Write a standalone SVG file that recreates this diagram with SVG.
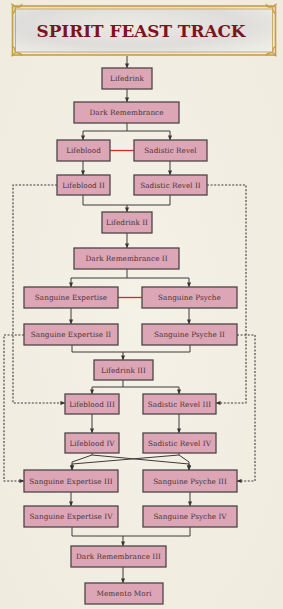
<svg xmlns="http://www.w3.org/2000/svg" width="283" height="609" viewBox="0 0 283 609">
<style>
.n rect{fill:#dca6b6;stroke:#4d4547;stroke-width:1.3}
.n text{font-family:"DejaVu Serif","Liberation Serif",serif;font-size:7.3px;fill:#4a3336;text-anchor:middle;dominant-baseline:central}
.c path{fill:none;stroke:#3f3a3a;stroke-width:1}
.c .d{stroke-dasharray:2 1.6;stroke-width:1.1}
.c .r{stroke:#d42a2a;stroke-width:1.3}
.title{font-family:"DejaVu Serif","Liberation Serif",serif;font-weight:bold;font-size:17px;fill:#7a1520;text-anchor:middle}
.gold{fill:none;stroke:#c89e45}
</style>
<defs>
<marker id="a" viewBox="0 0 6 6" refX="5.5" refY="3" markerWidth="5" markerHeight="5" orient="auto" markerUnits="userSpaceOnUse">
<path d="M0,0.5 L6,3 L0,5.5 Z" fill="#3a3535"/>
</marker>
<radialGradient id="cloud" cx="0.45" cy="0.4" r="0.7">
<stop offset="0" stop-color="#eceae4"/>
<stop offset="0.6" stop-color="#dedddb"/>
<stop offset="1" stop-color="#efede6"/>
</radialGradient>
<radialGradient id="bg" cx="0.5" cy="0.5" r="0.8">
<stop offset="0" stop-color="#f4f1e7"/>
<stop offset="1" stop-color="#eeeadd"/>
</radialGradient>
</defs>
<rect width="283" height="609" fill="url(#bg)"/>
<g id="banner">
<rect x="12" y="5" width="264" height="50" fill="url(#cloud)"/>
<rect x="12.5" y="6" width="263" height="49" class="gold" stroke-width="1.6"/>
<rect x="15.5" y="9" width="257" height="43" class="gold" stroke-width="0.8"/>
<path class="gold" stroke-width="1.2" d="M12,14 q4,-2 3,-7 q5,1 7,-3 M22,4 q-1,4 -5,3 M11,4 q3,0 3,3 M276,14 q-4,-2 -3,-7 q-5,1 -7,-3 M266,4 q1,4 5,3 M277,4 q-3,0 -3,3 M12,46 q4,2 3,7 q5,-1 7,3 M22,56 q-1,-4 -5,-3 M11,56 q3,0 3,-3 M276,46 q-4,2 -3,7 q-5,-1 -7,3 M266,56 q1,-4 5,-3 M277,56 q-3,0 -3,-3"/>
<text class="title" x="141" y="37" textLength="209" lengthAdjust="spacingAndGlyphs">SPIRIT FEAST TRACK</text>
</g>
<g class="c" id="connectors">
<path d="M127,56 V68" marker-end="url(#a)"/>
<path d="M127,89 V102" marker-end="url(#a)"/>
<path d="M127,123 V131 H83 V140" marker-end="url(#a)"/>
<path d="M127,131 H170 V140" marker-end="url(#a)"/>
<path class="r" d="M110,150.5 H134"/>
<path d="M83,161 V175" marker-end="url(#a)"/>
<path d="M170,161 V175" marker-end="url(#a)"/>
<path d="M83,195 V205 H170 V195"/>
<path d="M127,205 V212" marker-end="url(#a)"/>
<path d="M127,233 V248" marker-end="url(#a)"/>
<path d="M127,269 V278 H71 V287" marker-end="url(#a)"/>
<path d="M127,278 H189 V287" marker-end="url(#a)"/>
<path class="r" d="M118,297.5 H142"/>
<path d="M71,308 V324" marker-end="url(#a)"/>
<path d="M189,308 V324" marker-end="url(#a)"/>
<path d="M72,345 V352 H190 V345"/>
<path d="M123,352 V360" marker-end="url(#a)"/>
<path d="M123,380 V387 H92 V394" marker-end="url(#a)"/>
<path d="M123,387 H179 V394" marker-end="url(#a)"/>
<path d="M92,414 V433" marker-end="url(#a)"/>
<path d="M179,414 V433" marker-end="url(#a)"/>
<path d="M92,453 V455 L72,462 V470" marker-end="url(#a)"/>
<path d="M92,455 L189,464 V470" marker-end="url(#a)"/>
<path d="M179,453 V455 L189,462 V470" marker-end="url(#a)"/>
<path d="M179,455 L72,464 V470" marker-end="url(#a)"/>
<path d="M71,492 V506" marker-end="url(#a)"/>
<path d="M190,492 V506" marker-end="url(#a)"/>
<path d="M72,527 V536 H190 V527"/>
<path d="M123,536 V546" marker-end="url(#a)"/>
<path d="M123,567 V583" marker-end="url(#a)"/>
<path class="d" d="M57,185 H13 V403 H65" marker-end="url(#a)"/>
<path class="d" d="M207,185 H246 V403 H216" marker-end="url(#a)"/>
<path class="d" d="M24,335 H4 V481 H24" marker-end="url(#a)"/>
<path class="d" d="M237,335 H255 V481 H237" marker-end="url(#a)"/>
</g>
<g class="n" id="lifedrink"><rect x="102" y="68" width="50" height="21"/><text x="127" y="78.5">Lifedrink</text></g>
<g class="n" id="dark-remembrance"><rect x="74" y="102" width="105" height="21"/><text x="126.5" y="112.5">Dark Remembrance</text></g>
<g class="n" id="lifeblood"><rect x="57" y="140" width="53" height="21"/><text x="83.5" y="150.5">Lifeblood</text></g>
<g class="n" id="sadistic-revel"><rect x="134" y="140" width="73" height="21"/><text x="170.5" y="150.5">Sadistic Revel</text></g>
<g class="n" id="lifeblood-2"><rect x="57" y="175" width="53" height="20"/><text x="83.5" y="185">Lifeblood II</text></g>
<g class="n" id="sadistic-revel-2"><rect x="134" y="175" width="73" height="20"/><text x="170.5" y="185">Sadistic Revel II</text></g>
<g class="n" id="lifedrink-2"><rect x="102" y="212" width="50" height="21"/><text x="127" y="222.5">Lifedrink II</text></g>
<g class="n" id="dark-remembrance-2"><rect x="74" y="248" width="105" height="21"/><text x="126.5" y="258.5">Dark Remembrance II</text></g>
<g class="n" id="sanguine-expertise"><rect x="24" y="287" width="94" height="21"/><text x="71" y="297.5">Sanguine Expertise</text></g>
<g class="n" id="sanguine-psyche"><rect x="142" y="287" width="95" height="21"/><text x="189.5" y="297.5">Sanguine Psyche</text></g>
<g class="n" id="sanguine-expertise-2"><rect x="24" y="324" width="94" height="21"/><text x="71" y="334.5">Sanguine Expertise II</text></g>
<g class="n" id="sanguine-psyche-2"><rect x="142" y="324" width="95" height="21"/><text x="189.5" y="334.5">Sanguine Psyche II</text></g>
<g class="n" id="lifedrink-3"><rect x="94" y="360" width="59" height="20"/><text x="123.5" y="370">Lifedrink III</text></g>
<g class="n" id="lifeblood-3"><rect x="65" y="394" width="54" height="20"/><text x="92" y="404">Lifeblood III</text></g>
<g class="n" id="sadistic-revel-3"><rect x="143" y="394" width="73" height="20"/><text x="179.5" y="404">Sadistic Revel III</text></g>
<g class="n" id="lifeblood-4"><rect x="65" y="433" width="54" height="20"/><text x="92" y="443">Lifeblood IV</text></g>
<g class="n" id="sadistic-revel-4"><rect x="143" y="433" width="73" height="20"/><text x="179.5" y="443">Sadistic Revel IV</text></g>
<g class="n" id="sanguine-expertise-3"><rect x="24" y="470" width="94" height="22"/><text x="71" y="481">Sanguine Expertise III</text></g>
<g class="n" id="sanguine-psyche-3"><rect x="143" y="470" width="94" height="22"/><text x="190" y="481">Sanguine Psyche III</text></g>
<g class="n" id="sanguine-expertise-4"><rect x="24" y="506" width="94" height="21"/><text x="71" y="516.5">Sanguine Expertise IV</text></g>
<g class="n" id="sanguine-psyche-4"><rect x="143" y="506" width="94" height="21"/><text x="190" y="516.5">Sanguine Psyche IV</text></g>
<g class="n" id="dark-remembrance-3"><rect x="71" y="546" width="95" height="21"/><text x="118.5" y="556.5">Dark Remembrance III</text></g>
<g class="n" id="memento-mori"><rect x="85" y="583" width="78" height="21"/><text x="124" y="593.5">Memento Mori</text></g>
</svg>
